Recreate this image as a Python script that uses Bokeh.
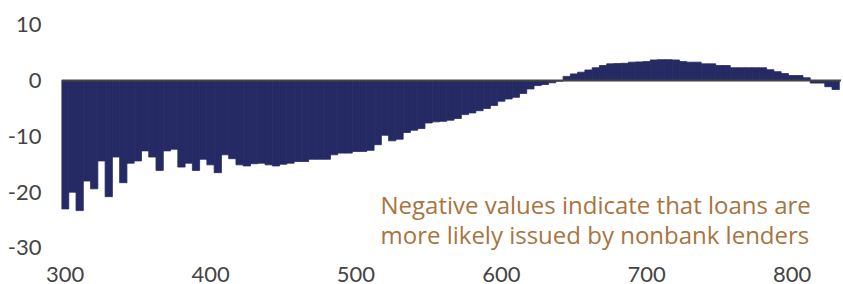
from bokeh.plotting import figure
from bokeh.models import Span, Label, FixedTicker
from bokeh.embed import file_html
from bokeh.resources import INLINE

# credit score buckets (bar centres)
scores = list(range(300, 835, 5))
# difference (percentage points); negative => nonbank more likely
values = [
    -23.0, -20.0, -23.3, -18.0, -19.4, -14.4, -20.8, -13.7, -18.3, -14.8,
    -14.4, -12.6, -13.7, -16.1, -12.6, -12.3, -15.5, -14.8, -16.1, -14.1,
    -15.1, -16.5, -13.3, -14.0, -15.1, -15.3, -14.9, -14.8, -15.1, -15.3,
    -15.0, -14.8, -14.5, -14.5, -14.1, -14.1, -14.1, -13.3, -13.0, -13.0,
    -12.7, -12.7, -12.5, -11.5, -9.8, -10.8, -10.5, -9.3, -8.9, -8.6,
    -7.6, -7.4, -7.3, -7.1, -6.8, -6.1, -5.8, -5.4, -5.0, -4.45,
    -3.7, -3.3, -3.0, -2.3, -1.5, -0.9, -0.7, -0.4, -0.1, 0.75,
    1.2, 1.5, 1.9, 2.3, 2.7, 3.0, 3.05, 3.1, 3.3, 3.35,
    3.4, 3.7, 3.75, 3.75, 3.7, 3.4, 3.3, 3.3, 3.0, 3.0,
    2.7, 2.7, 2.3, 2.3, 2.3, 2.3, 2.3, 1.95, 1.6, 1.25,
    0.9, 0.9, 0.5, -0.45, -0.45, -1.1, -1.6,
]
x_ticks = [300, 400, 500, 600, 700, 800]
y_ticks = [-30, -20, -10, 0, 10]
y_tick_labels = ["-30", "-20", "-10", "0", "10"]
note_lines = ["Negative values indicate that loans are",
              "more likely issued by nonbank lenders"]

FONT = "Lato"
p = figure(width=841, height=284, output_backend="svg", toolbar_location=None,
           x_range=(297.5, 834.0), y_range=(-32.96, 12.2),
           min_border_left=61, min_border_right=0, min_border_top=12, min_border_bottom=0)
p.outline_line_color = None
p.grid.visible = False
p.background_fill_color = "white"

p.vbar(x=scores, top=values, bottom=0, width=5, fill_color="#252A64",
       line_color="#252A64", line_width=0.8)

p.add_layout(Span(location=0, dimension="width", line_color="#444444", line_width=2))

for ax in (p.xaxis[0], p.yaxis[0]):
    ax.axis_line_color = None
    ax.major_tick_line_color = None
    ax.minor_tick_line_color = None
    ax.major_tick_out = 0
    ax.major_tick_in = 0
    ax.minor_tick_out = 0
    ax.major_label_text_font = FONT
    ax.major_label_text_font_size = "22px"
    ax.major_label_text_color = "#444444"
p.xaxis.ticker = FixedTicker(ticks=x_ticks)
p.yaxis.ticker = FixedTicker(ticks=y_ticks)
p.yaxis.major_label_overrides = {t: s for t, s in zip(y_ticks, y_tick_labels)}
p.xaxis.major_label_standoff = 2
p.yaxis.major_label_standoff = 20

for i, line in enumerate(note_lines):
    p.add_layout(Label(x=516.9, y=-22.29 - 5.33 * i, text=line, text_font="Open Sans",
                       text_font_size="24px", text_color="#A87440",
                       text_baseline="alphabetic", text_align="left"))

open("out.html", "w").write(file_html(p, INLINE))
